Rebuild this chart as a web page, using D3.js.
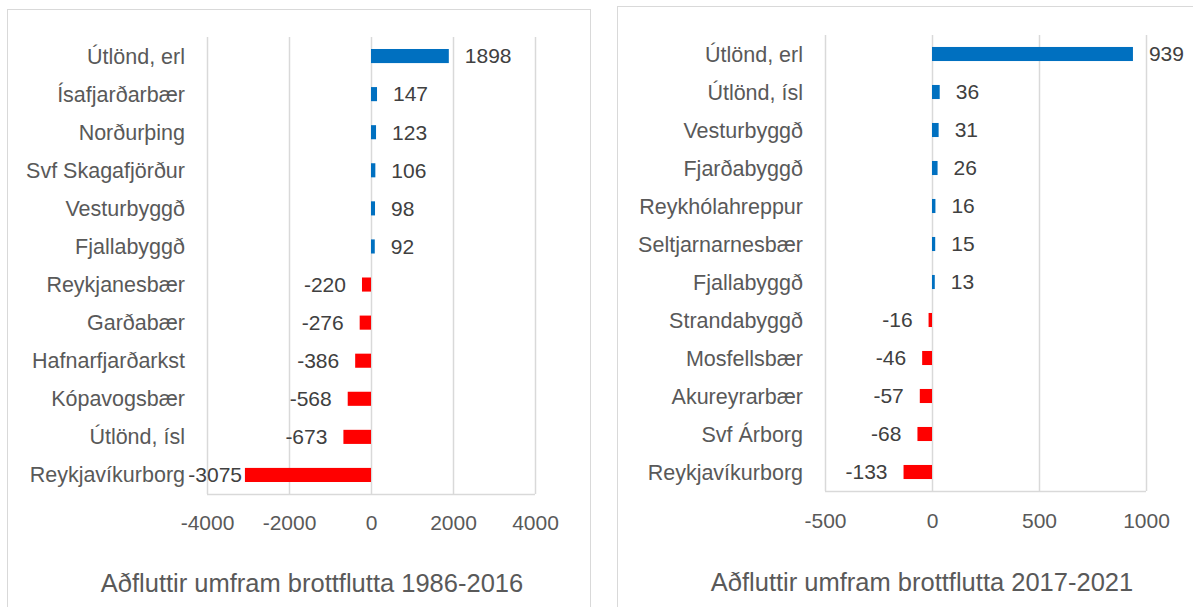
<!DOCTYPE html>
<html>
<head>
<meta charset="utf-8">
<script src="https://cdn.jsdelivr.net/npm/d3@7"></script>
<style>
body { margin: 0; background: #fff; }
svg { display: block; }
</style>
</head>
<body>
<div id="chart"></div>
<script>
// gögn lesin af myndinni
var categoriesA = ["Útlönd, erl", "Ísafjarðarbær", "Norðurþing", "Svf Skagafjörður", "Vesturbyggð", "Fjallabyggð",
    "Reykjanesbær", "Garðabær", "Hafnarfjarðarkst", "Kópavogsbær", "Útlönd, ísl", "Reykjavíkurborg"];
var valuesA = [1898, 147, 123, 106, 98, 92, -220, -276, -386, -568, -673, -3075];
var ticksA = [-4000, -2000, 0, 2000, 4000];
var titleA = "Aðfluttir umfram brottflutta 1986-2016";

var categoriesB = ["Útlönd, erl", "Útlönd, ísl", "Vesturbyggð", "Fjarðabyggð", "Reykhólahreppur", "Seltjarnarnesbær",
    "Fjallabyggð", "Strandabyggð", "Mosfellsbær", "Akureyrarbær", "Svf Árborg", "Reykjavíkurborg"];
var valuesB = [939, 36, 31, 26, 16, 15, 13, -16, -46, -57, -68, -133];
var ticksB = [-500, 0, 500, 1000];
var titleB = "Aðfluttir umfram brottflutta 2017-2021";

var W = 1193, H = 607;
var font = "'Liberation Sans', Arial, sans-serif";
var grey = "#595959", dark = "#404040", grid = "#d9d9d9";

var svg = d3.select("#chart").append("svg")
    .attr("width", W)
    .attr("height", H);

function drawPanel(cats, vals, ticks, title, box) {
    var g = svg.append("g");
    // ramminn um grafið
    g.append("rect")
        .attr("x", box.bx + 0.5).attr("y", box.by + 0.5)
        .attr("width", box.bw).attr("height", box.bh)
        .attr("fill", "#fff").attr("stroke", grid);

    var x = d3.scaleLinear()
        .domain([ticks[0], ticks[ticks.length - 1]])
        .range([box.left, box.right]);
    var y = d3.scaleBand()
        .domain(cats)
        .range([box.top, box.bottom])
        .paddingInner(0.63).paddingOuter(0.315);

    // lóðréttar hjálparlínur
    g.selectAll(".grid").data(ticks).enter().append("line")
        .attr("x1", function (d) { return Math.round(x(d)) + 0.5; })
        .attr("x2", function (d) { return Math.round(x(d)) + 0.5; })
        .attr("y1", box.top).attr("y2", box.bottom)
        .attr("stroke", grid).attr("stroke-width", 1.5);
    g.append("line")
        .attr("x1", box.left).attr("x2", box.right)
        .attr("y1", box.bottom + 0.5).attr("y2", box.bottom + 0.5)
        .attr("stroke", grid).attr("stroke-width", 1.5);

    // ás (venjulegt bandstrik, ekki mínusmerki)
    var axis = d3.axisBottom(x).tickValues(ticks).tickSize(0).tickPadding(0)
        .tickFormat(function (d) { return String(d); });
    var ax = g.append("g").attr("transform", "translate(0," + box.tickY + ")").call(axis);
    ax.select(".domain").remove();
    ax.selectAll("text")
        .attr("dy", "0.35em")
        .attr("font-family", font).attr("font-size", "21px").attr("fill", grey);

    // súlur
    g.selectAll(".bar").data(vals).enter().append("rect")
        .attr("x", function (d) { return x(Math.min(0, d)); })
        .attr("y", function (d, i) { return y(cats[i]); })
        .attr("width", function (d) { return Math.abs(x(d) - x(0)); })
        .attr("height", y.bandwidth())
        .attr("fill", function (d) { return d >= 0 ? "#0070C0" : "#FF0000"; });

    // flokkaheiti
    g.selectAll(".cat").data(cats).enter().append("text")
        .attr("x", box.left - 22)
        .attr("y", function (d) { return y(d) + y.bandwidth() / 2; })
        .attr("dy", "0.35em")
        .attr("text-anchor", "end")
        .attr("font-family", font).attr("font-size", "21.5px").attr("fill", grey)
        .text(function (d) { return d; });

    // gildi
    g.selectAll(".val").data(vals).enter().append("text")
        .attr("x", function (d) {
            return d >= 0 ? x(d) + 16 : Math.max(x(d) - 16, box.left + 35);
        })
        .attr("y", function (d, i) { return y(cats[i]) + y.bandwidth() / 2; })
        .attr("dy", "0.35em")
        .attr("text-anchor", function (d) { return d >= 0 ? "start" : "end"; })
        .attr("font-family", font).attr("font-size", "21px").attr("fill", dark)
        .text(function (d) { return d; });

    // titill
    g.append("text")
        .attr("x", box.titleX).attr("y", box.titleY)
        .attr("dy", "0.35em")
        .attr("text-anchor", "middle")
        .attr("font-family", font).attr("font-size", "25.5px").attr("fill", grey)
        .text(title);
}

drawPanel(categoriesA, valuesA, ticksA, titleA, {
    bx: 7, by: 9, bw: 583, bh: 610,
    left: 207, right: 535, top: 37, bottom: 494,
    tickY: 523, titleX: 312, titleY: 583
});
drawPanel(categoriesB, valuesB, ticksB, titleB, {
    bx: 617, by: 6, bw: 600, bh: 610,
    left: 825, right: 1146, top: 35, bottom: 491,
    tickY: 521, titleX: 922, titleY: 582
});
</script>
</body>
</html>
